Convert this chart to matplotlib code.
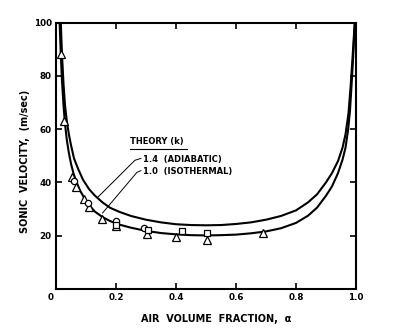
import matplotlib.pyplot as plt
import matplotlib.transforms as mtransforms

# theory curves (air volume fraction, sonic velocity m/s)
adiab_a = [0.016, 0.02, 0.025, 0.03, 0.036, 0.043, 0.05, 0.06, 0.074, 0.09, 0.11, 0.13,
           0.155, 0.18, 0.21, 0.25, 0.3, 0.35, 0.4, 0.45, 0.5, 0.55, 0.6, 0.65, 0.7,
           0.75, 0.8, 0.84, 0.87, 0.9, 0.92, 0.94, 0.955, 0.965, 0.975, 0.982, 0.988,
           0.993, 0.996]
adiab_v = [100, 88, 77, 69, 63, 58, 54, 49, 45, 41, 37.5, 35, 32.5, 30.5, 29, 27.4, 26,
           25, 24.3, 24, 23.9, 24, 24.4, 25, 26, 27.4, 29.5, 32.5, 35.5, 40, 43.5, 48,
           53, 58, 66, 76, 86, 95, 100]

iso_a = [0.012, 0.016, 0.02, 0.025, 0.03, 0.036, 0.043, 0.05, 0.058, 0.067, 0.08, 0.095,
         0.11, 0.13, 0.155, 0.18, 0.21, 0.25, 0.3, 0.35, 0.4, 0.45, 0.5, 0.55, 0.6,
         0.65, 0.7, 0.75, 0.8, 0.84, 0.87, 0.9, 0.92, 0.94, 0.955, 0.965, 0.974, 0.98,
         0.986, 0.991, 0.996]
iso_v = [100, 88, 78, 69, 62, 56, 51, 47, 43.5, 40.5, 37, 34, 31.5, 29, 27, 25.5, 24.2,
         23, 21.8, 21, 20.5, 20.2, 20.1, 20.2, 20.4, 20.9, 21.6, 22.8, 24.8, 27.5,
         30.5, 35, 38.5, 43.5, 48.5, 53, 60, 67, 78, 88, 100]

# measured points
tri_a = [0.017, 0.027, 0.052, 0.066, 0.094, 0.111, 0.152, 0.2, 0.302, 0.4, 0.502, 0.691]
tri_v = [88, 63, 42.2, 38.3, 33.8, 30.8, 26.1, 23.5, 20.5, 19.4, 18.5, 20.9]
circ_a = [0.061, 0.108, 0.2, 0.292]
circ_v = [40.4, 32.3, 25.5, 22.9]
sq_a = [0.2, 0.308, 0.419, 0.502]
sq_v = [24.2, 22.0, 21.7, 21.0]

xticks = [0, 0.2, 0.4, 0.6, 0.8, 1.0]
xlabels = ['0', '0.2', '0.4', '0.6', '0.8', '1.0']
yticks = [0, 20, 40, 60, 80, 100]
ylabels = ['', '20', '40', '60', '80', '100']

plt.rcParams['font.family'] = 'DejaVu Sans'
plt.rcParams['font.weight'] = 'bold'

fig = plt.figure(figsize=(3.96, 3.3), dpi=100)
ax = fig.add_axes([56/396, 1-289/330, 300/396, 266.5/330])

ax.plot(adiab_a, adiab_v, color='black', lw=1.5)
ax.plot(iso_a, iso_v, color='black', lw=1.5)
ax.plot(tri_a, tri_v, linestyle='none', marker='^', ms=5.5, mfc='white', mec='black', mew=0.9)
ax.plot(circ_a, circ_v, linestyle='none', marker='o', ms=4.5, mfc='white', mec='black', mew=0.9)
ax.plot(sq_a, sq_v, linestyle='none', marker='s', ms=4.5, mfc='white', mec='black', mew=0.9)

ax.set_xlim(0, 1.0)
ax.set_ylim(0, 100)
ax.set_xticks(xticks)
ax.set_xticklabels(xlabels)
ax.set_yticks(yticks)
ax.set_yticklabels(ylabels)
ax.tick_params(direction='in', length=4, width=1.2, labelsize=6.3, pad=3,
               top=True, right=True)
for s in ax.spines.values():
    s.set_linewidth(1.5)

# shift the corner "0" to the left
lab0 = ax.get_xticklabels()[0]
lab0.set_transform(lab0.get_transform() + mtransforms.ScaledTranslation(-5/100, 0, fig.dpi_scale_trans))

ax.set_xlabel('AIR  VOLUME  FRACTION,  \u03b1', fontsize=7, fontweight='bold')
ax.xaxis.set_label_coords(0.535, -0.095)
ax.set_ylabel('SONIC  VELOCITY,  (m/sec)', fontsize=7, fontweight='bold')
ax.yaxis.set_label_coords(-0.088, 0.48)

# legend text and leaders
ax.text(0.247, 55.2, 'THEORY (k)', fontsize=6, fontweight='bold', va='center')
ax.plot([0.247, 0.435], [52.7, 52.7], color='black', lw=0.8)
ax.text(0.29, 48.7, '1.4  (ADIABATIC)', fontsize=6, fontweight='bold', va='center')
ax.text(0.29, 44.0, '1.0  (ISOTHERMAL)', fontsize=6, fontweight='bold', va='center')
ax.plot([0.283, 0.263, 0.14], [49.0, 48.3, 34.5], color='black', lw=0.7)
ax.plot([0.283, 0.27, 0.155], [44.4, 43.8, 28.5], color='black', lw=0.7)

fig.savefig('out.png', dpi=100)
